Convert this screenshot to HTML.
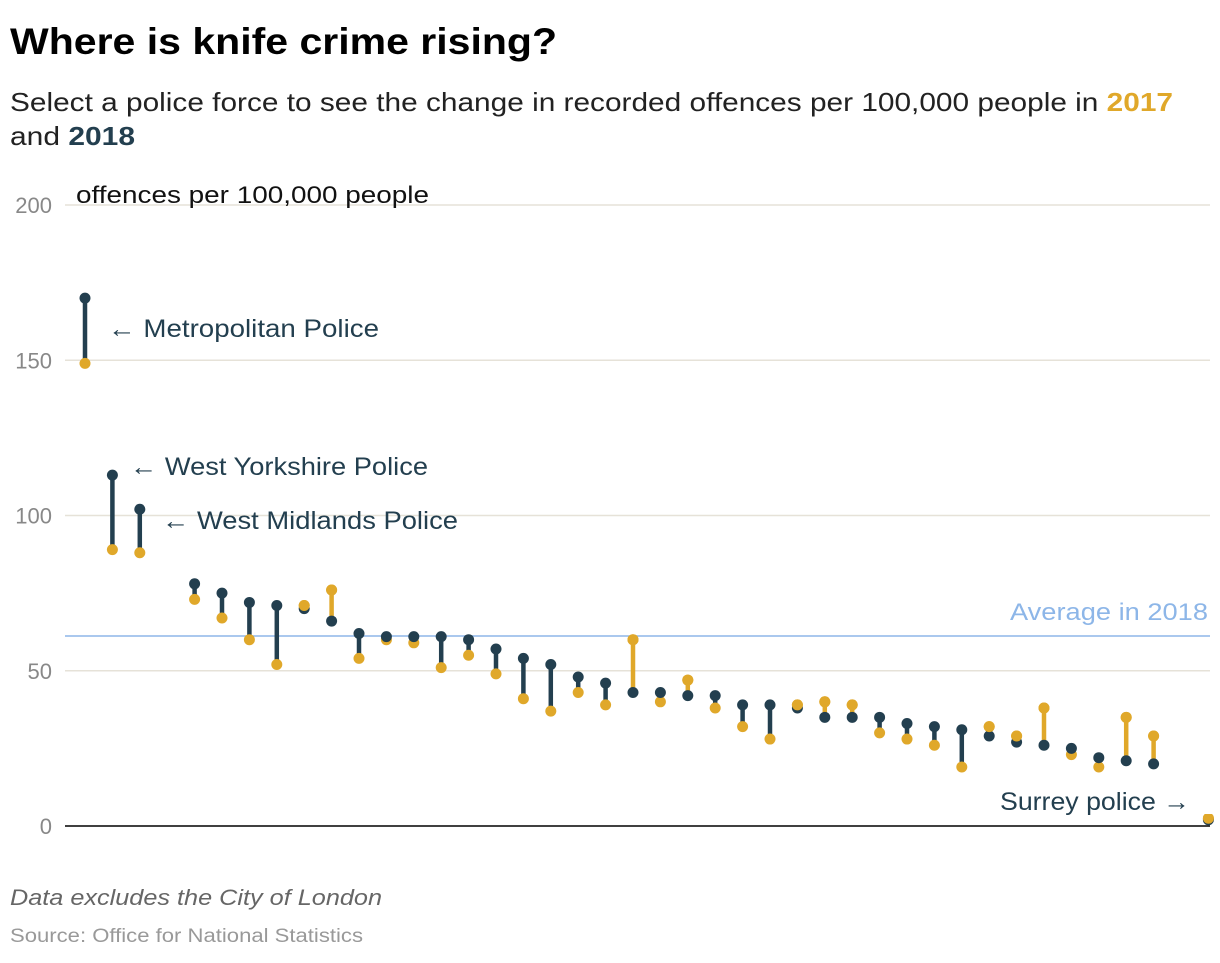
<!DOCTYPE html>
<html><head><meta charset="utf-8"><style>
body{margin:0;background:#fff;width:1220px;height:958px;overflow:hidden;font-family:"Liberation Sans",sans-serif}
</style></head><body>
<svg width="1220" height="958">
<text x="10" y="54" font-size="37" font-weight="bold" fill="#000" textLength="547" lengthAdjust="spacingAndGlyphs">Where is knife crime rising?</text>
<text x="10" y="111" font-size="26" fill="#222" textLength="1163" lengthAdjust="spacingAndGlyphs">Select a police force to see the change in recorded offences per 100,000 people in <tspan fill="#e0a82a" font-weight="bold">2017</tspan></text>
<text x="10" y="145" font-size="26" fill="#222" textLength="125" lengthAdjust="spacingAndGlyphs">and <tspan fill="#233f4f" font-weight="bold">2018</tspan></text>
<g id="grid"></g>
<text x="76" y="203" font-size="24" fill="#111" textLength="353" lengthAdjust="spacingAndGlyphs">offences per 100,000 people</text>
<g id="marks"></g>
<g id="labels"></g>
<text x="10" y="905" font-size="22" font-style="italic" fill="#666" textLength="372" lengthAdjust="spacingAndGlyphs">Data excludes the City of London</text>
<text x="10" y="942" font-size="19" fill="#999" textLength="353" lengthAdjust="spacingAndGlyphs">Source: Office for National Statistics</text>
</svg>
<script>
const ticks=[0,50,100,150,200];
const idx=[0,1,2,4,5,6,7,8,9,10,11,12,13,14,15,16,17,18,19,20,21,22,23,24,25,26,27,28,29,30,31,32,33,34,35,36,37,38,39,40,41];
const v2018=[170,113,102,78,75,72,71,70,66,62,61,61,61,60,57,54,52,48,46,43,43,42,42,39,39,38,35,35,35,33,32,31,29,27,26,25,22,21,20,20,2];
const v2017=[149,89,88,73,67,60,52,71,76,54,60,59,51,55,49,41,37,43,39,60,40,47,38,32,28,39,40,39,30,28,26,19,32,29,38,23,19,35,29,20,2.5];
const avg2018=61.2;
const NS='http://www.w3.org/2000/svg';
const y=v=>826-v*3.105, x=i=>85+i*27.4;
function mk(t,a,p){const e=document.createElementNS(NS,t);for(const k in a)e.setAttribute(k,a[k]);(p||document.getElementById('marks')).appendChild(e);return e;}
const g=document.getElementById('grid');
ticks.forEach(t=>{
 if(t>0){const l=mk('line',{x1:65,x2:1210,y1:y(t),y2:y(t),stroke:'#e6e2d8','stroke-width':1.5},g);
 
 }
 const tx=mk('text',{x:52,y:y(t)+8,'text-anchor':'end','font-size':22,fill:'#888'},g);tx.textContent=t;
 
 
});
const base=mk('line',{x1:65,x2:1210,y1:826,y2:826,stroke:'#000','stroke-width':1.5},g);


const av=mk('line',{x1:65,x2:1210,y1:y(avg2018),y2:y(avg2018),stroke:'#8db6e8','stroke-width':1.5},g);


const at=mk('text',{x:1010,y:y(avg2018)-16,'font-size':24,fill:'#8db6e8',textLength:198,lengthAdjust:'spacingAndGlyphs'},g);at.textContent='Average in 2018';


idx.forEach((ii,k)=>{
 const a=v2018[k],b=v2017[k],up=a>=b,c=up?'#233f4f':'#e0a82a';
 const ln=mk('line',{x1:x(ii),x2:x(ii),y1:y(a),y2:y(b),stroke:c,'stroke-width':4.5});
 
 
 const d17=mk('circle',{cx:x(ii),cy:y(b),r:5.5,fill:'#e0a82a'});
 
 
 const d18=mk('circle',{cx:x(ii),cy:y(a),r:5.5,fill:'#233f4f'});
 
 
 if(!up){const t=mk('circle',{cx:x(ii),cy:y(b),r:5.5,fill:'#e0a82a'});}
});
const L=document.getElementById('labels');
const bg=mk('rect',{x:995,y:774,width:212,height:40,fill:'#fff'},L);


const bg2=mk('rect',{x:1174,y:756,width:40,height:58,fill:'#fff'},L);


[['← Metropolitan Police',108,337,271,'label-metropolitan'],['← West Yorkshire Police',130,475,298,'label-west-yorkshire'],['← West Midlands Police',162,529,296,'label-west-midlands'],['Surrey police →',1000,810,190,'label-surrey']].forEach(d=>{
 const t=mk('text',{x:d[1],y:d[2],'font-size':25,fill:'#233f4f',textLength:d[3],lengthAdjust:'spacingAndGlyphs'},L);t.textContent=d[0];
 
 
});
</script>
</body></html>
